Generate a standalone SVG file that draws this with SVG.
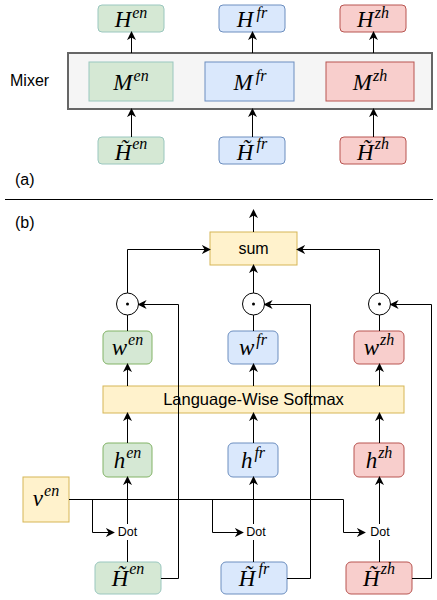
<svg xmlns="http://www.w3.org/2000/svg" width="437" height="600" viewBox="0 0 437 600">
<defs>
<marker id="arr" viewBox="0 0 10 10" refX="9" refY="5" markerWidth="9" markerHeight="9" markerUnits="userSpaceOnUse" orient="auto">
<path d="M0,0 L10,5 L0,10 L3,5 Z" fill="#000"/>
</marker>
<style>
.g{fill:#d5e8d4;stroke:#9ac7bf;stroke-width:1}
.gg{fill:#d5e8d4;stroke:#82b366;stroke-width:1}
.b{fill:#dae8fc;stroke:#6c8ebf;stroke-width:1}
.r{fill:#f8cecc;stroke:#b85450;stroke-width:1}
.y{fill:#fff2cc;stroke:#d6b656;stroke-width:1}
.m{font-family:"Liberation Serif","Times New Roman",serif;font-style:italic;font-size:23px;fill:#000;text-anchor:middle}
.s{font-size:16px}
.t{font-family:"Liberation Sans",Arial,sans-serif;fill:#000}
.c{fill:none;stroke:#000;stroke-width:1}
.ca{fill:none;stroke:#000;stroke-width:1;marker-end:url(#arr)}
</style>
</defs>
<rect width="437" height="600" fill="#fff"/>

<!-- (a) -->
<g id="mixer">
<rect x="68" y="53" width="364" height="56" fill="#f5f5f5" stroke="#666" stroke-width="2"/>
<text class="t" x="10" y="86" font-size="16">Mixer</text>
</g>
<g id="Men"><rect class="g" x="89" y="62" width="84" height="39"/><text class="m" x="131" y="90">M<tspan class="s" dx="1" dy="-9">en</tspan></text></g>
<g id="Mfr"><rect class="b" x="205" y="62" width="89" height="39"/><text class="m" x="250" y="90">M<tspan class="s" dx="3" dy="-9">fr</tspan></text></g>
<g id="Mzh"><rect class="r" x="326" y="62" width="88" height="39"/><text class="m" x="370" y="90">M<tspan class="s" dx="1" dy="-9">zh</tspan></text></g>

<g id="Hen"><rect class="g" x="98" y="5" width="66" height="27" rx="4"/><text class="m" x="131" y="27">H<tspan class="s" dx="1" dy="-9">en</tspan></text></g>
<g id="Hfr"><rect class="b" x="219" y="5" width="66" height="27" rx="4"/><text class="m" x="252" y="27">H<tspan class="s" dx="3" dy="-9">fr</tspan></text></g>
<g id="Hzh"><rect class="r" x="340" y="5" width="66" height="27" rx="4"/><text class="m" x="373" y="27">H<tspan class="s" dx="1" dy="-9">zh</tspan></text></g>

<g id="Hten"><rect class="g" x="98" y="137" width="66" height="27" rx="4"/><text class="m" x="131" y="160">H̃<tspan class="s" dx="1" dy="-11">en</tspan></text></g>
<g id="Htfr"><rect class="b" x="219" y="137" width="66" height="27" rx="4"/><text class="m" x="252" y="160">H̃<tspan class="s" dx="3" dy="-11">fr</tspan></text></g>
<g id="Htzh"><rect class="r" x="340" y="137" width="66" height="27" rx="4"/><text class="m" x="373" y="160">H̃<tspan class="s" dx="1" dy="-11">zh</tspan></text></g>

<text class="t" x="15" y="185" font-size="16">(a)</text>
<line x1="5" y1="199.5" x2="433" y2="199.5" stroke="#000" stroke-width="1"/>
<text class="t" x="15" y="228" font-size="16">(b)</text>

<!-- (b) nodes -->
<g id="sum"><rect class="y" x="210" y="232" width="87" height="33"/><text class="t" x="253.5" y="254" font-size="16" text-anchor="middle">sum</text></g>
<g id="softmax"><rect class="y" x="103" y="386" width="301" height="27"/><text class="t" x="253.5" y="405" font-size="16.5" text-anchor="middle">Language-Wise Softmax</text></g>
<g id="ven"><rect class="y" x="23" y="477" width="46" height="45"/><text class="m" x="46" y="506">v<tspan class="s" dx="1" dy="-10">en</tspan></text></g>

<g id="oen"><circle cx="127.5" cy="304" r="11" fill="#fff" stroke="#000"/><circle cx="127.5" cy="304" r="1.5" fill="#000"/></g>
<g id="ofr"><circle cx="253.5" cy="304" r="11" fill="#fff" stroke="#000"/><circle cx="253.5" cy="304" r="1.5" fill="#000"/></g>
<g id="ozh"><circle cx="379.5" cy="304" r="11" fill="#fff" stroke="#000"/><circle cx="379.5" cy="304" r="1.5" fill="#000"/></g>

<g id="wen"><rect class="gg" x="103" y="331" width="49" height="33" rx="5"/><text class="m" x="127.5" y="355">w<tspan class="s" dx="1" dy="-10">en</tspan></text></g>
<g id="wfr"><rect class="b" x="228" y="331" width="50" height="33" rx="5"/><text class="m" x="253" y="355">w<tspan class="s" dx="2" dy="-10">fr</tspan></text></g>
<g id="wzh"><rect class="r" x="354" y="331" width="50" height="33" rx="5"/><text class="m" x="379" y="355">w<tspan class="s" dx="1" dy="-10">zh</tspan></text></g>

<g id="hen"><rect class="gg" x="103" y="443" width="49" height="34" rx="5"/><text class="m" x="127.5" y="468">h<tspan class="s" dx="1" dy="-10">en</tspan></text></g>
<g id="hfr"><rect class="b" x="228" y="443" width="50" height="34" rx="5"/><text class="m" x="253" y="468">h<tspan class="s" dx="2" dy="-10">fr</tspan></text></g>
<g id="hzh"><rect class="r" x="354" y="443" width="50" height="34" rx="5"/><text class="m" x="379" y="468">h<tspan class="s" dx="1" dy="-10">zh</tspan></text></g>

<g id="dots" class="t" font-size="12.5" text-anchor="middle">
<text x="127.5" y="536">Dot</text>
<text x="256" y="536">Dot</text>
<text x="380" y="536">Dot</text>
</g>

<g id="Hten_b"><rect class="g" x="95" y="562" width="66" height="32" rx="5"/><text class="m" x="128" y="586">H̃<tspan class="s" dx="1" dy="-12">en</tspan></text></g>
<g id="Htfr_b"><rect class="b" x="221" y="562" width="66" height="32" rx="5"/><text class="m" x="254" y="586">H̃<tspan class="s" dx="3" dy="-12">fr</tspan></text></g>
<g id="Htzh_b"><rect class="r" x="346" y="562" width="66" height="32" rx="5"/><text class="m" x="379" y="586">H̃<tspan class="s" dx="1" dy="-12">zh</tspan></text></g>

<!-- connectors -->
<g id="connectors">
<path class="ca" d="M131.5,53 V32"/>
<path class="ca" d="M252.5,53 V32"/>
<path class="ca" d="M373.5,53 V32"/>
<path class="ca" d="M131.5,137 V109"/>
<path class="ca" d="M252.5,137 V109"/>
<path class="ca" d="M373.5,137 V109"/>

<path class="ca" d="M253.5,232 V210"/>
<path class="ca" d="M127.5,293 V249.5 H210"/>
<path class="ca" d="M379.5,293 V249.5 H297"/>
<path class="ca" d="M253.5,293 V265"/>
<path class="c" d="M127.5,331 V315 M253.5,331 V315 M379.5,331 V315"/>
<path class="ca" d="M127.5,386 V364"/>
<path class="ca" d="M253.5,386 V364"/>
<path class="ca" d="M379.5,386 V364"/>
<path class="ca" d="M127.5,443 V413"/>
<path class="ca" d="M253.5,443 V413"/>
<path class="ca" d="M379.5,443 V413"/>
<path class="ca" d="M127.5,524 V477"/>
<path class="ca" d="M253.5,524 V477"/>
<path class="ca" d="M379.5,524 V477"/>
<path class="c" d="M127.5,562 V540 M253.5,562 V540 M379.5,562 V540"/>
<path class="ca" d="M161,578.5 H178.5 V304.5 H138.5"/>
<path class="ca" d="M287,578.5 H310.5 V304.5 H264.5"/>
<path class="ca" d="M412,578.5 H431.5 V304.5 H390.5"/>
<path class="ca" d="M69,499.5 H343.5 V532.5 H365"/>
<path class="ca" d="M92.5,499.5 V532.5 H114"/>
<path class="ca" d="M212.5,499.5 V532.5 H243"/>
</g>
</svg>
